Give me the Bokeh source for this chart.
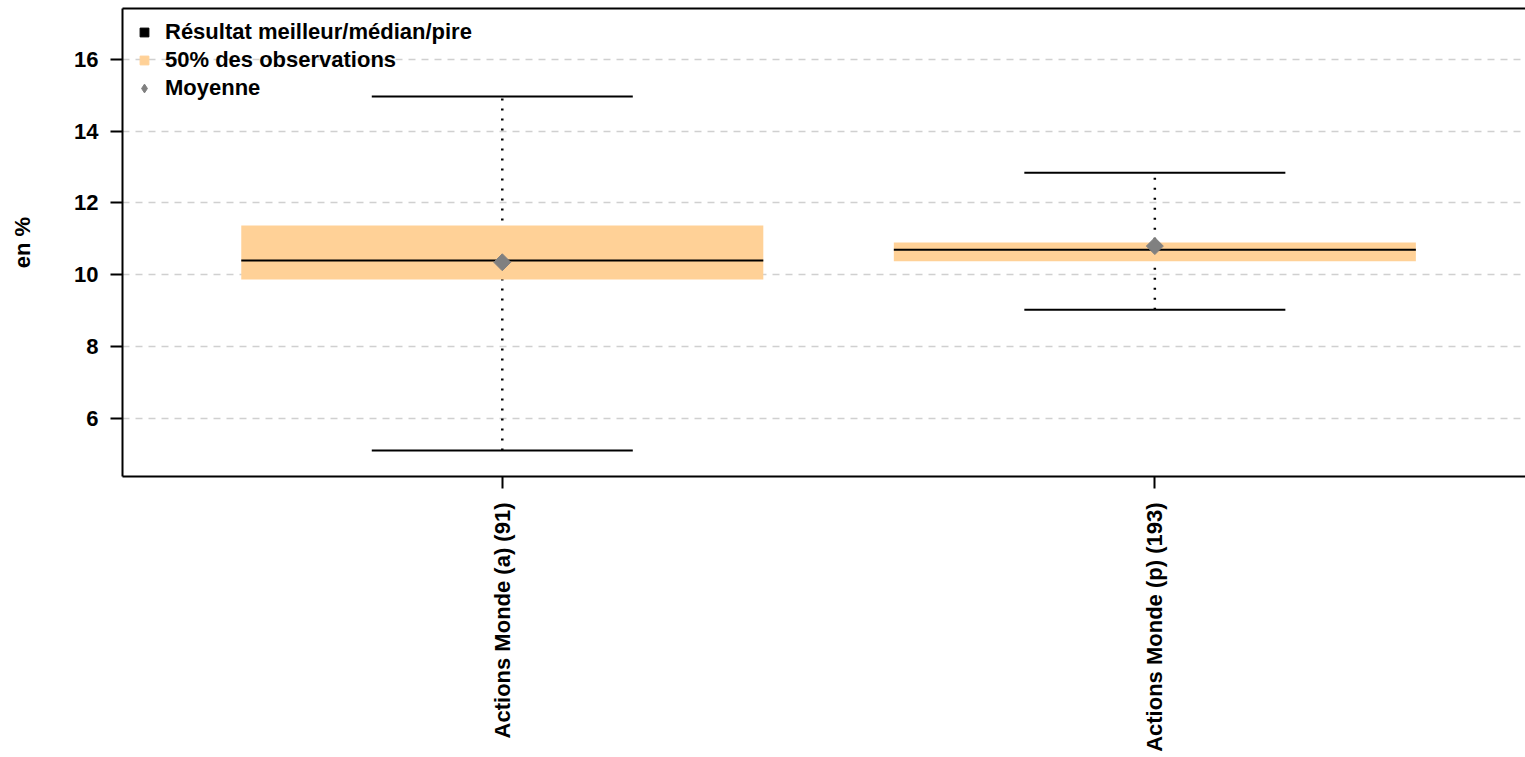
import math
from bokeh.plotting import figure
from bokeh.models import Range1d, FixedTicker, LinearAxis, Legend, LegendItem, ColumnDataSource
from bokeh.embed import file_html
from bokeh.resources import INLINE

# ---- data ----
categories = ["Actions Monde (a) (91)", "Actions Monde (p) (193)"]
best = [14.96, 12.84]
worst = [5.11, 9.03]
q3 = [11.37, 10.90]
q1 = [9.87, 10.38]
median = [10.40, 10.70]
mean = [10.35, 10.80]
y_ticks = [6, 8, 10, 12, 14, 16]

FONT = "Liberation Sans"
FS = "22px"
BOX_COLOR = "#FFD197"
BOX_W = 0.8
CAP_W = 0.4

xs = [i + 1 for i in range(len(categories))]

src = ColumnDataSource(dict(
    x=xs,
    best=best, worst=worst, q1=q1, q3=q3, median=median, mean=mean,
    bl=[x - BOX_W / 2 for x in xs], br=[x + BOX_W / 2 for x in xs],
    cl=[x - CAP_W / 2 for x in xs], cr=[x + CAP_W / 2 for x in xs],
))

p = figure(frame_width=1403, frame_height=468, output_backend="svg", toolbar_location=None,
           x_range=Range1d(0.418, 2.568), y_range=Range1d(4.39, 17.41),
           min_border_left=122, min_border_right=0, min_border_top=8, min_border_bottom=0)
p.outline_line_color = None
p.background_fill_color = "white"
p.border_fill_color = "white"

# whiskers (dotted, behind box)
p.segment(x0="x", y0="worst", x1="x", y1="best", source=src,
          line_color="black", line_width=2.5, line_dash="2 8")
# box
p.vbar(x="x", width=BOX_W, bottom="q1", top="q3", source=src,
       fill_color=BOX_COLOR, line_color=None)
# median
p.segment(x0="bl", y0="median", x1="br", y1="median", source=src,
          line_color="black", line_width=2)
# caps
p.segment(x0="cl", y0="best", x1="cr", y1="best", source=src,
          line_color="black", line_width=2)
p.segment(x0="cl", y0="worst", x1="cr", y1="worst", source=src,
          line_color="black", line_width=2)
# mean
p.scatter(x="x", y="mean", source=src, marker="square", angle=math.pi / 4, size=12,
          fill_color="#808080", line_color="#808080")

# legend proxies (not drawn in plot area)
nan = float("nan")
r1 = p.scatter(x=[nan], y=[nan], marker="square", fill_color="black", line_color="black")
r2 = p.scatter(x=[nan], y=[nan], marker="square", fill_color=BOX_COLOR, line_color=BOX_COLOR)
r3 = p.scatter(x=[nan], y=[nan], marker="diamond",
               fill_color="#808080", line_color="#808080")
legend = Legend(items=[
    LegendItem(label="Résultat meilleur/médian/pire", renderers=[r1]),
    LegendItem(label="50% des observations", renderers=[r2]),
    LegendItem(label="Moyenne", renderers=[r3]),
], location="top_left", border_line_color=None, background_fill_alpha=0,
    label_text_font=FONT, label_text_font_style="bold", label_text_font_size=FS,
    label_text_color="black",
    glyph_width=22, glyph_height=22, spacing=2, padding=9, margin=11,
    label_standoff=10)
p.add_layout(legend)

# grid
p.xgrid.visible = False
p.ygrid.ticker = FixedTicker(ticks=y_ticks)
p.ygrid.grid_line_color = "#d0d0d0"
p.ygrid.grid_line_dash = "7 6"
p.ygrid.grid_line_width = 1.5

# y axis
p.yaxis.ticker = FixedTicker(ticks=y_ticks)
p.yaxis.axis_label = "en %"
p.yaxis.axis_label_text_font = FONT
p.yaxis.axis_label_text_font_style = "bold"
p.yaxis.axis_label_text_font_size = FS
p.yaxis.axis_label_text_color = "black"
p.yaxis.axis_label_standoff = 36
p.yaxis.major_label_text_font = FONT
p.yaxis.major_label_text_font_style = "bold"
p.yaxis.major_label_text_font_size = FS
p.yaxis.major_label_text_color = "black"
p.yaxis.major_label_standoff = 12
p.yaxis.axis_line_width = 2
p.yaxis.major_tick_line_width = 2
p.yaxis.major_tick_out = 12
p.yaxis.major_tick_in = 0
p.yaxis.minor_tick_line_color = None

# x axis
p.xaxis.ticker = FixedTicker(ticks=xs)
p.xaxis.major_label_overrides = {x: c for x, c in zip(xs, categories)}
p.xaxis.major_label_orientation = math.pi / 2
p.xaxis.major_label_text_font = FONT
p.xaxis.major_label_text_font_style = "bold"
p.xaxis.major_label_text_font_size = FS
p.xaxis.major_label_text_color = "black"
p.xaxis.major_label_standoff = 14
p.xaxis.axis_line_width = 2
p.xaxis.major_tick_line_width = 2
p.xaxis.major_tick_out = 12
p.xaxis.major_tick_in = 0
p.xaxis.minor_tick_line_color = None

# top border line
top = LinearAxis(ticker=FixedTicker(ticks=[]), major_label_text_font_size="0px",
                 major_tick_out=0, major_tick_in=0, minor_tick_out=0, minor_tick_in=0,
                 major_label_standoff=0, axis_line_width=2)
p.add_layout(top, "above")

open("out.html", "w").write(file_html(p, INLINE))
